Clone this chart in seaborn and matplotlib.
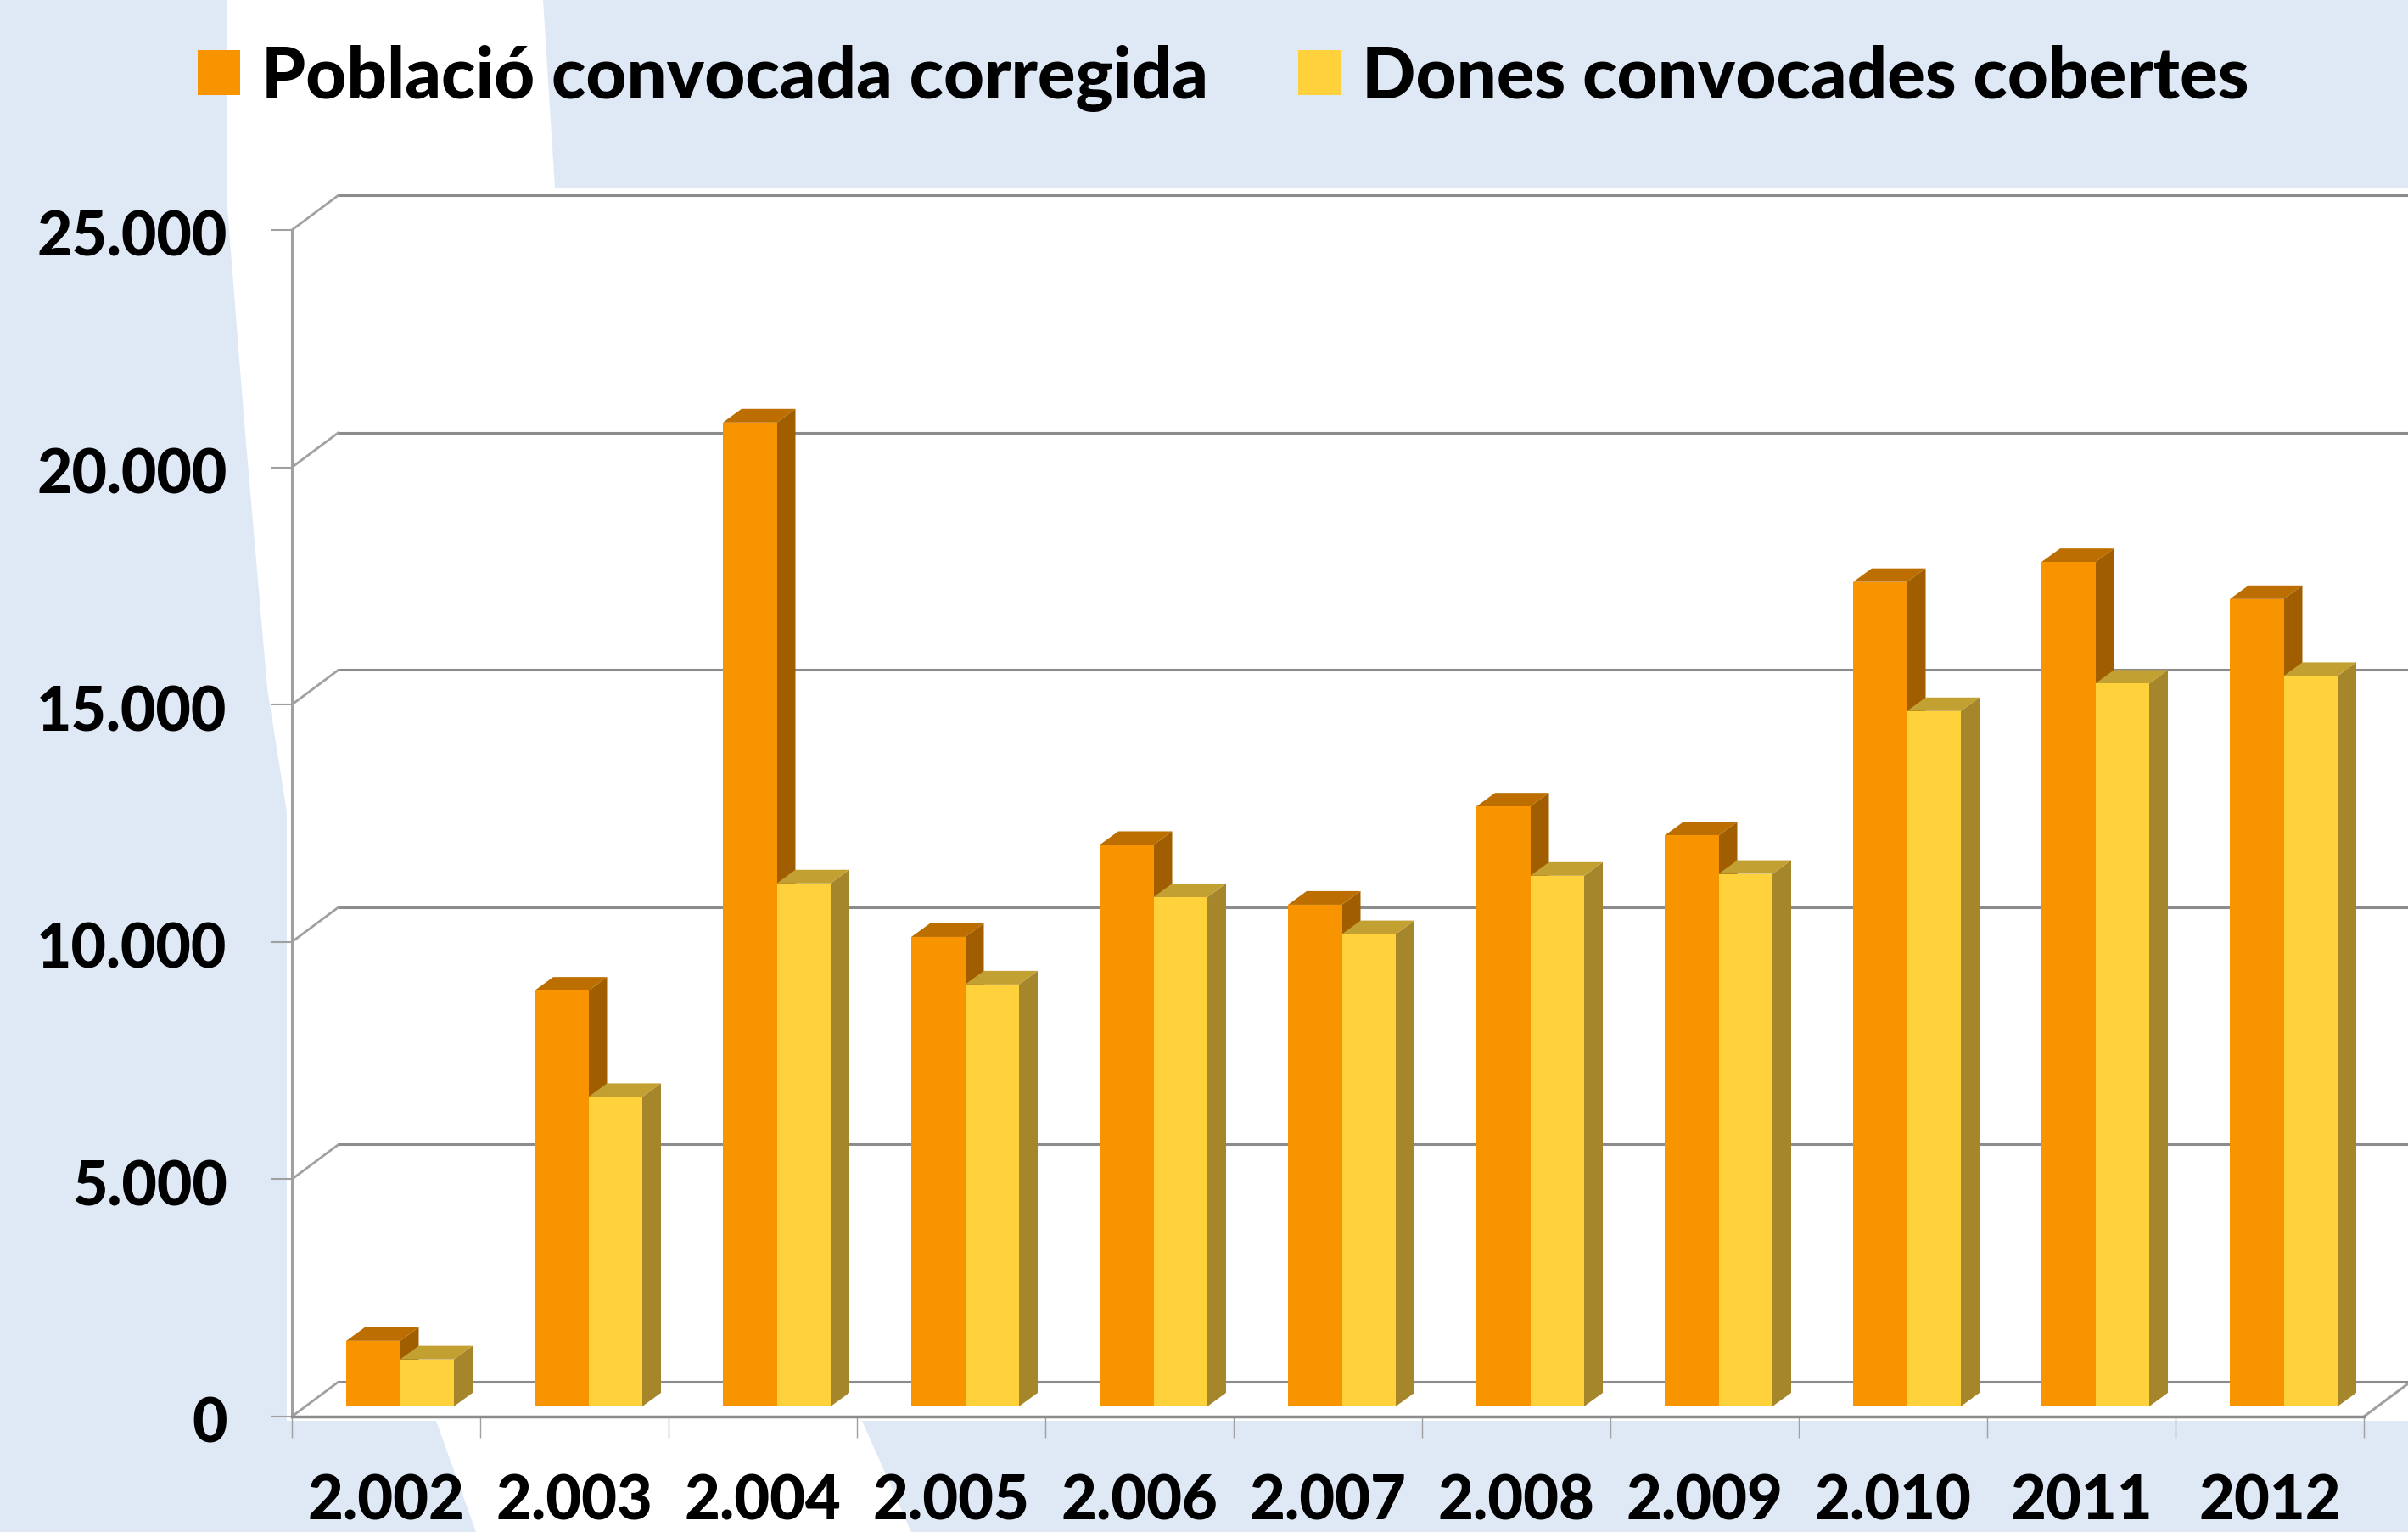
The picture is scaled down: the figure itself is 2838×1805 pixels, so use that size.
"""
Població convocada vs dones cobertes, 2002-2012, fake 3D column chart.
"""
import matplotlib
matplotlib.use("Agg")
import matplotlib.pyplot as plt
import pandas as pd
import seaborn as sns
from matplotlib.patches import Polygon
from matplotlib.transforms import Affine2D

sns.set_style("white")
plt.rcParams["font.family"] = ["Lato", "DejaVu Sans"]
plt.rcParams["font.weight"] = "black"
plt.rcParams["text.color"] = "black"
plt.rcParams["xtick.labelcolor"] = "black"
plt.rcParams["ytick.labelcolor"] = "black"

YEARS = ["2.002", "2.003", "2.004", "2.005", "2.006", "2.007", "2.008", "2.009", "2.010", "2011", "2012"]
POBLACIO = [1380, 8760, 20730, 9890, 11830, 10570, 12640, 12030, 17370, 17790, 17010]
DONES = [990, 6520, 11020, 8890, 10730, 9950, 11180, 11220, 14650, 15230, 15390]
SERIES = ["Població convocada corregida", "Dones convocades cobertes"]
Y_TICKS = [0, 5000, 10000, 15000, 20000, 25000]
Y_LABELS = ["0", "5.000", "10.000", "15.000", "20.000", "25.000"]

W, H = 2838, 1806
BLUE = "#DEE9F5"
GRAY = "#8C8C8C"
LIGHT_GRAY = "#A0A0A0"
FRONT = ["#F79400", "#FFD23C"]
SIDE = ["#A05E00", "#A5862A"]
TOP = ["#BC6F00", "#C3A032"]

# pixel layout of the front plane
LEFT, RIGHT, TOP_PX, BOTTOM = 344, 2786, 272, 1670
PX_X = (RIGHT - LEFT) / len(YEARS)
PX_Y = (BOTTOM - TOP_PX) / 25000

fig = plt.figure(figsize=(W / 100, H / 100), dpi=100)
fig.patch.set_facecolor("white")

# background shapes, in pixels
bg = fig.add_axes([0, 0, 1, 1], zorder=0)
bg.set_xlim(0, W)
bg.set_ylim(H, 0)
bg.axis("off")
bg.add_patch(Polygon([(0, 0), (267, 0), (267, 233), (288, 500), (315, 812), (338, 958), (338, 1675),
                      (514, 1675), (561, H), (0, H)], color=BLUE, lw=0))
bg.add_patch(Polygon([(640, 0), (W, 0), (W, 222), (654, 222)], color=BLUE, lw=0))
bg.add_patch(Polygon([(1016, 1675), (W, 1675), (W, H), (1074, H)], color=BLUE, lw=0))

ax = fig.add_axes([LEFT / W, 1 - BOTTOM / H, (RIGHT - LEFT) / W, (BOTTOM - TOP_PX) / H], zorder=1)
ax.patch.set_alpha(0)

data = pd.DataFrame({
    "year": YEARS * 2,
    "value": POBLACIO + DONES,
    "series": [SERIES[0]] * len(YEARS) + [SERIES[1]] * len(YEARS),
})
sns.barplot(data=data, x="year", y="value", hue="series", palette=FRONT, saturation=1,
            width=0.572, gap=0, ax=ax, zorder=5, linewidth=0)
ax.set_xlim(-0.5, len(YEARS) - 0.5)
ax.set_ylim(0, 25000)
ax.set_xlabel("")
ax.set_ylabel("")

# offsets of the 3D look, converted to data units
wall_dx, wall_dy = 55 / PX_X, 41 / PX_Y
bar_dx, bar_dy = 16.5 / PX_X, 12 / PX_Y
depth_dx, depth_dy = 22 / PX_X, 16 / PX_Y

# back wall and floor
x0, x1 = -0.5, len(YEARS) - 0.5
for v in Y_TICKS:
    ax.plot([x0 + wall_dx, x1 + wall_dx], [v + wall_dy, v + wall_dy], color=GRAY, lw=2.2, clip_on=False, zorder=1)
    ax.plot([x0, x0 + wall_dx], [v, v + wall_dy], color=LIGHT_GRAY, lw=2, clip_on=False, zorder=1)
ax.plot([x1, x1 + wall_dx], [0, wall_dy], color=LIGHT_GRAY, lw=2.2, clip_on=False, zorder=1)

# shift the bars onto the floor and add the side and top faces
for i, container in enumerate(ax.containers):
    for bar in container:
        bar.set_clip_on(False)
        bar.set_x(bar.get_x() + bar_dx)
        bar.set_y(bar_dy)
        xa, xb = bar.get_x(), bar.get_x() + bar.get_width()
        ya, yb = bar_dy, bar_dy + bar.get_height()
        ax.add_patch(Polygon([(xb, ya), (xb + depth_dx, ya + depth_dy), (xb + depth_dx, yb + depth_dy), (xb, yb)],
                             facecolor=SIDE[i], lw=0, clip_on=False, zorder=2 + i))
        ax.add_patch(Polygon([(xa, yb), (xb, yb), (xb + depth_dx, yb + depth_dy), (xa + depth_dx, yb + depth_dy)],
                             facecolor=TOP[i], lw=0, clip_on=False, zorder=2 + i))

# axes
for side in ["top", "right"]:
    ax.spines[side].set_visible(False)
ax.spines["left"].set_color(LIGHT_GRAY)
ax.spines["left"].set_linewidth(2.2)
ax.spines["bottom"].set_color(GRAY)
ax.spines["bottom"].set_linewidth(2.5)
ax.spines["bottom"].set_zorder(4)

ax.set_yticks(Y_TICKS)
ax.set_yticklabels(Y_LABELS)
ax.tick_params(axis="y", length=18, width=1.5, color=LIGHT_GRAY, pad=37, labelsize=51.5, left=True)
ax.set_xticks(range(len(YEARS)))
ax.set_xticklabels(YEARS)
ax.set_xticks([x0 + k for k in range(len(YEARS) + 1)], minor=True)
ax.tick_params(axis="x", which="major", length=0, pad=48, labelsize=52)
ax.tick_params(axis="x", which="minor", length=18, width=1, color=LIGHT_GRAY, bottom=True)

# the value labels sit a little below their ticks
for label in ax.get_yticklabels():
    label.set_transform(label.get_transform() + Affine2D().translate(0, -3))

handles, labels = ax.get_legend_handles_labels()
ax.legend(handles, labels, ncol=2, frameon=False, fontsize=60, handlelength=0.6, handleheight=0.6,
          handletextpad=0.3, columnspacing=1.27, borderpad=0, borderaxespad=0,
          loc="upper left", bbox_to_anchor=(233 / W, 1 - 53 / H), bbox_transform=fig.transFigure)

fig.savefig("out.png", dpi=100)
